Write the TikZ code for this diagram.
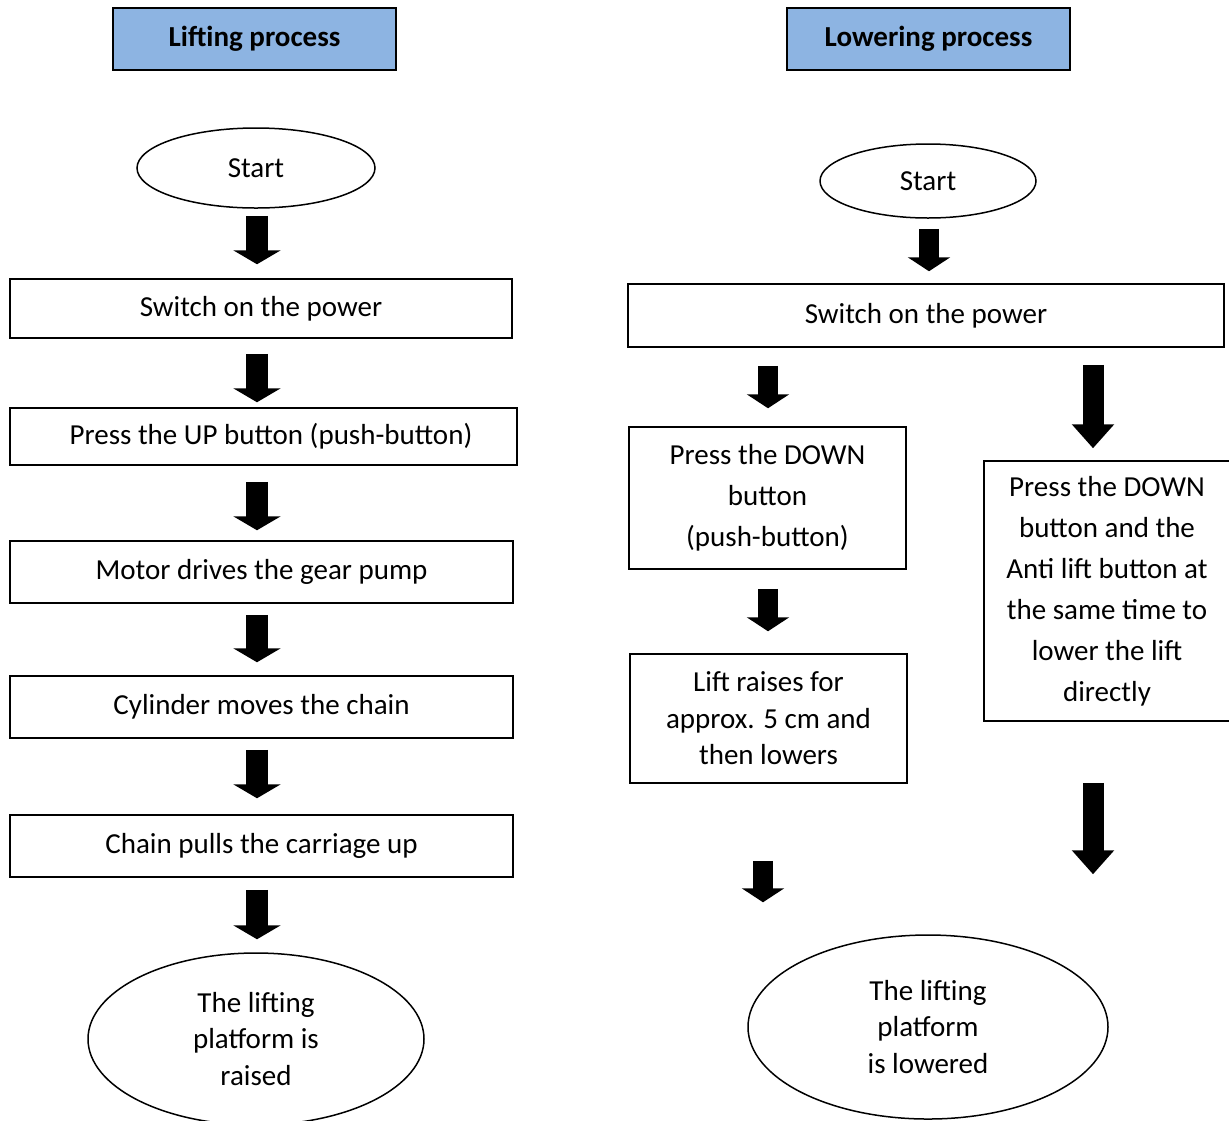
\documentclass[tikz,border=0pt]{standalone}
\usepackage{fontspec}
\setmainfont{Carlito}
\usetikzlibrary{arrows.meta,shapes.geometric}
\definecolor{hdrblue}{RGB}{141,180,226}

\begin{document}
\begin{tikzpicture}[x=0.5pt, y=-0.5pt, line width=0.75pt, every node/.style={font=\fontsize{14.5}{20.5}\selectfont}, box/.style={draw, align=center, inner sep=2pt}, hdr/.style={box, fill=hdrblue, font=\fontsize{14.5}{20.5}\selectfont\bfseries, minimum width=141.5pt, minimum height=31pt}, term/.style={draw, ellipse, align=center, inner sep=1pt}, tight/.style={font=\fontsize{14.5}{18.2}\selectfont}, arrL/.style={line width=11pt, -{Triangle[width=23.5pt, length=7pt]}}, arrR/.style={line width=10pt, -{Triangle[width=21pt, length=7pt]}}, arrB/.style={line width=10.5pt, -{Triangle[width=20.5pt, length=12pt]}}]
\useasboundingbox (0,0) rectangle (1229,1120);
% lifting process
\node[hdr] (hdrL) at (254.5,39) {Lifting process};
\node[term, minimum width=119pt, minimum height=40pt] (startL) at (256,168) {Start};
\node[box, minimum width=251pt, minimum height=29.5pt] (powerL) at (261,308.5) {Switch on the power};
\node[box, minimum width=253.5pt, minimum height=28.5pt] (upL) at (263.5,436.5) {\hspace{7.5pt}Press the UP button (push-button)};
\node[box, minimum width=251.5pt, minimum height=31pt] (pumpL) at (261.5,572) {Motor drives the gear pump};
\node[box, minimum width=251.5pt, minimum height=31pt] (cylL) at (261.5,707) {Cylinder moves the chain};
\node[box, minimum width=251.5pt, minimum height=31pt] (chainL) at (261.5,846) {Chain pulls the carriage up};
\node[term, tight, minimum width=168pt, minimum height=86pt] (raisedL) at (256,1039) {The lifting\\platform is\\raised};
\coordinate (colL) at (257,0);
\foreach \a/\b/\s/\e in {startL/powerL/3.5pt/7pt, powerL/upL/7.5pt/2.5pt, upL/pumpL/8pt/5pt, pumpL/cylL/5.5pt/6.5pt, cylL/chainL/5.5pt/8pt, chainL/raisedL/6pt/6.5pt}
  \draw[arrL, shorten <=\s, shorten >=\e] (colL |- \a.south) -- (colL |- \b.north);
% lowering process
\node[hdr] (hdrR) at (928.5,39) {Lowering process};
\node[term, minimum width=108pt, minimum height=37pt] (startR) at (928,181) {Start};
\node[box, minimum width=298pt, minimum height=31.5pt] (powerR) at (926,315.5) {Switch on the power};
\node[box, minimum width=138.5pt, minimum height=71pt] (downR) at (767.5,498) {Press the DOWN\\button\\(push-button)};
\node[box, tight, minimum width=138.5pt, minimum height=64.5pt] (raiseR) at (768.5,718.5) {Lift raises for\\approx. 5 cm and\\then lowers};
\node[box, minimum width=123pt, minimum height=130pt] (directR) at (1107,591) {Press the DOWN\\button and the\\Anti lift button at\\the same time to\\lower the lift\\directly};
\node[term, tight, minimum width=180pt, minimum height=92pt] (loweredR) at (928,1027) {The lifting\\platform\\is lowered};
\coordinate (colS) at (929,0);
\coordinate (colD) at (768,0);
\coordinate (colE) at (763,0);
\coordinate (colA) at (1093,0);
\draw[arrR, shorten <=5pt, shorten >=6pt] (colS |- startR.south) -- (colS |- powerR.north);
\draw[arrR, shorten <=9pt, shorten >=9pt] (colD |- powerR.south) -- (colD |- downR.north);
\draw[arrR, shorten <=9.5pt, shorten >=11pt] (colD |- downR.south) -- (colD |- raiseR.north);
\draw[arrR, shorten <=38.5pt, shorten >=16pt] (colE |- raiseR.south) -- (colE |- loweredR.north);
\draw[arrB, shorten <=8.5pt, shorten >=6pt] (colA |- powerR.south) -- (colA |- directR.north);
\draw[arrB, shorten <=30.5pt, shorten >=30pt] (colA |- directR.south) -- (colA |- loweredR.north);
\end{tikzpicture}
\end{document}
